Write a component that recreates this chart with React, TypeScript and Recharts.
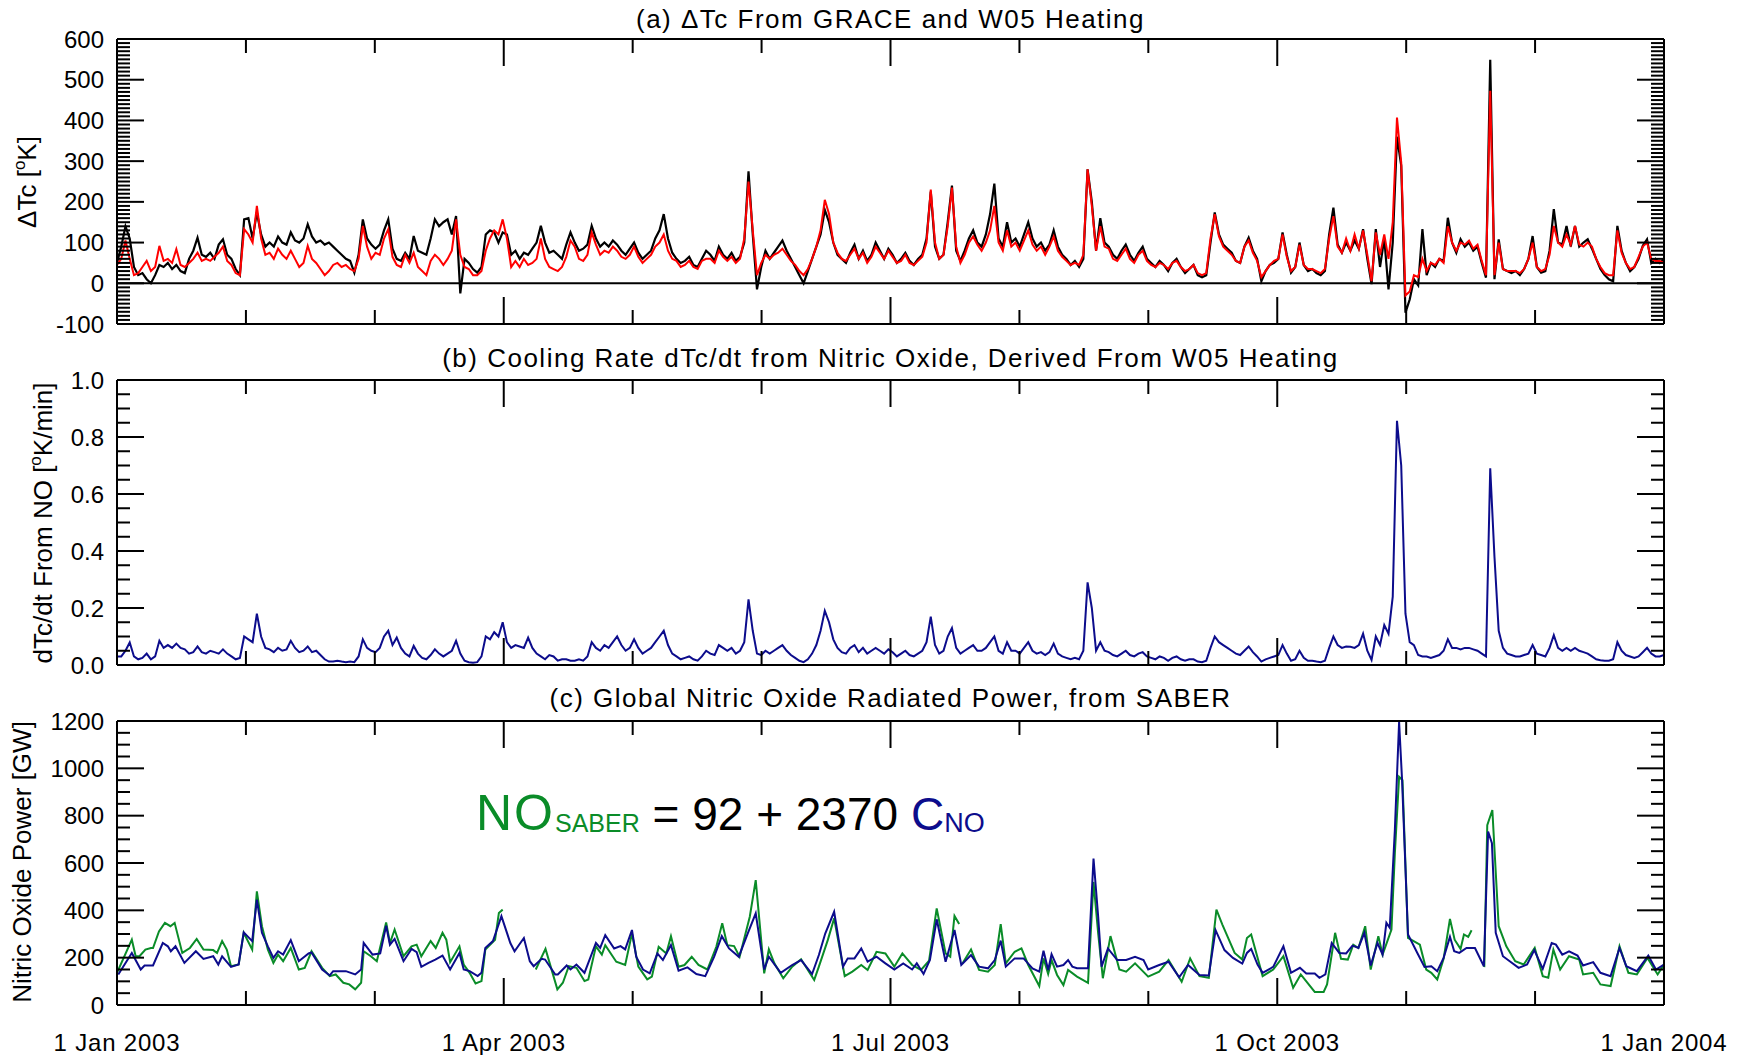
import { ComposedChart, Line, XAxis, YAxis, ReferenceLine } from 'recharts'

const FONT = '"Liberation Sans", Arial, Helvetica, sans-serif'
const INK = '#000000'
const RED = '#ff0000'
const NAVY = '#0c0c8c'
const GREEN = '#0a8c28'

// IDL style: twelve even month ticks, the quarters carry labels
const MONTH_TICKS = [0, 30.42, 60.83, 91.25, 121.67, 152.08, 182.5, 212.92, 243.33, 273.75, 304.17, 334.58, 365]
const MONTH_LABELS = ['1 Jan 2003', '', '', '1 Apr 2003', '', '', '1 Jul 2003', '', '', '1 Oct 2003', '', '', '1 Jan 2004']

// (a) daily Delta Tc [K], day 0 = 1 Jan 2003
const GRACE_DTC = [
  50, 90, 140, 110, 40, 20, 25, 10, 0, 20,
  45, 40, 50, 35, 45, 30, 25, 60, 80, 112,
  70, 65, 75, 60, 95, 108, 70, 60, 35, 20,
  157, 160, 110, 174, 120, 90, 100, 90, 115, 100,
  95, 125, 105, 100, 110, 145, 115, 100, 105, 95,
  100, 90, 80, 70, 60, 55, 26, 70, 157, 110,
  95, 85, 95, 130, 157, 85, 60, 55, 75, 60,
  116, 80, 75, 70, 110, 157, 140, 150, 157, 120,
  165, -25, 60, 50, 35, 26, 40, 120, 130, 125,
  100, 125, 120, 70, 80, 60, 75, 70, 85, 100,
  141, 100, 75, 80, 70, 60, 95, 125, 100, 80,
  85, 95, 141, 110, 90, 100, 90, 105, 95, 80,
  70, 85, 100, 75, 60, 70, 80, 110, 130, 170,
  110, 75, 60, 50, 55, 65, 45, 40, 60, 80,
  70, 55, 90, 70, 60, 75, 55, 65, 100, 275,
  120, -15, 40, 80, 60, 75, 90, 105, 80, 60,
  40, 20, 0, 30, 60, 90, 120, 180, 150, 100,
  70, 60, 50, 75, 95, 60, 80, 55, 70, 100,
  80, 60, 85, 70, 50, 60, 75, 55, 45, 60,
  70, 110, 225, 90, 60, 70, 150, 240, 80, 55,
  80, 110, 130, 100, 90, 120, 170, 245, 110, 90,
  150, 100, 110, 90, 120, 150, 110, 90, 100, 80,
  95, 130, 90, 70, 60, 45, 55, 40, 60, 280,
  200, 80, 160, 100, 90, 70, 60, 80, 95, 70,
  55, 75, 90, 60, 50, 40, 55, 45, 30, 50,
  60, 40, 25, 35, 45, 20, 15, 20, 100, 174,
  120, 95, 85, 75, 55, 50, 90, 112, 80, 60,
  5, 30, 45, 50, 60, 125, 70, 26, 40, 100,
  45, 30, 35, 25, 20, 30, 120, 186, 95, 75,
  100, 80, 105, 85, 133, 60, -2, 133, 40, 110,
  -15, 100, 360, 289, -72, -40, 10, -5, 133, 20,
  50, 40, 60, 55, 161, 100, 75, 108, 90, 100,
  80, 90, 50, 14, 549, 10, 108, 35, 30, 25,
  30, 20, 35, 60, 116, 40, 26, 30, 80, 182,
  100, 95, 141, 90, 141, 90, 100, 108, 85, 60,
  35, 20, 10, 5, 141, 80, 50, 30, 40, 60,
  92, 108, 50, 60, 50, 60,
]

const W05_DTC = [
  45, 60, 105, 60, 20, 25, 40, 55, 30, 40,
  92, 55, 60, 50, 84, 45, 40, 50, 60, 75,
  55, 60, 55, 65, 75, 90, 55, 45, 25, 20,
  133, 120, 100, 190, 110, 70, 75, 60, 85, 70,
  60, 80, 60, 40, 50, 92, 60, 50, 35, 20,
  30, 45, 50, 40, 45, 35, 30, 60, 141, 90,
  60, 75, 70, 110, 133, 65, 45, 40, 70, 50,
  75, 40, 30, 20, 55, 70, 60, 45, 60, 80,
  157, 70, 40, 35, 20, 20, 30, 80, 110, 130,
  120, 157, 110, 40, 55, 40, 60, 45, 50, 60,
  110, 60, 40, 35, 30, 40, 65, 105, 90, 60,
  55, 70, 125, 95, 70, 80, 75, 90, 80, 65,
  60, 70, 90, 65, 50, 60, 70, 90, 100, 120,
  80, 60, 55, 40, 45, 55, 40, 35, 55, 60,
  60, 50, 80, 65, 55, 65, 50, 60, 110, 250,
  130, 20, 50, 70, 60, 70, 75, 85, 70, 55,
  45, 30, 20, 35, 60, 90, 130, 205, 170, 100,
  75, 60, 55, 70, 85, 60, 75, 50, 65, 90,
  75, 60, 80, 65, 50, 55, 70, 50, 45, 55,
  65, 100, 230, 100, 60, 70, 140, 235, 90, 50,
  70, 100, 115, 95, 80, 100, 130, 190, 100, 80,
  130, 90, 100, 80, 105, 130, 95, 80, 90, 70,
  90, 115, 80, 65, 55, 45, 50, 45, 70, 280,
  190, 80, 140, 90, 85, 60, 55, 70, 85, 60,
  50, 70, 80, 55, 45, 40, 50, 45, 35, 50,
  55, 40, 30, 35, 45, 25, 20, 25, 110, 170,
  115, 90, 80, 70, 55, 50, 90, 105, 75, 55,
  15, 30, 45, 55, 60, 120, 65, 30, 40, 95,
  45, 35, 35, 30, 25, 35, 110, 165, 90, 75,
  110, 80, 120, 85, 130, 70, 5, 125, 70, 120,
  60, 150, 407, 297, -30, -20, 20, 15, 60, 30,
  50, 45, 60, 50, 140, 100, 80, 100, 95, 105,
  85, 95, 55, 20, 473, 20, 100, 35, 30, 30,
  30, 25, 35, 60, 100, 40, 30, 35, 70, 141,
  100, 90, 120, 95, 141, 95, 90, 100, 90, 60,
  40, 25, 20, 20, 130, 75, 50, 35, 40, 65,
  90, 100, 60, 55, 55, 50,
]

// (b) daily dTc/dt from NO [K/min]
const NO_COOLING = [
  0.03, 0.03, 0.05, 0.079, 0.03, 0.02, 0.025, 0.04, 0.02, 0.03,
  0.085, 0.06, 0.07, 0.06, 0.075, 0.06, 0.055, 0.04, 0.045, 0.065,
  0.045, 0.04, 0.05, 0.045, 0.04, 0.055, 0.04, 0.03, 0.02, 0.025,
  0.1, 0.09, 0.08, 0.18, 0.1, 0.06, 0.055, 0.045, 0.06, 0.05,
  0.055, 0.085, 0.06, 0.045, 0.05, 0.065, 0.045, 0.05, 0.035, 0.02,
  0.012, 0.012, 0.015, 0.012, 0.01, 0.012, 0.01, 0.03, 0.09, 0.06,
  0.05, 0.045, 0.06, 0.1, 0.12, 0.07, 0.096, 0.06, 0.04, 0.03,
  0.067, 0.04, 0.025, 0.02, 0.035, 0.055, 0.04, 0.03, 0.04, 0.05,
  0.085, 0.04, 0.015, 0.01, 0.008, 0.01, 0.03, 0.1, 0.09, 0.115,
  0.1, 0.15, 0.08, 0.06, 0.07, 0.065, 0.06, 0.096, 0.06, 0.04,
  0.03, 0.02, 0.035, 0.03, 0.015, 0.02, 0.02, 0.015, 0.015, 0.02,
  0.015, 0.03, 0.08, 0.06, 0.05, 0.07, 0.06, 0.08, 0.1, 0.07,
  0.05, 0.06, 0.09, 0.06, 0.04, 0.05, 0.06, 0.08, 0.1, 0.12,
  0.07, 0.04, 0.03, 0.02, 0.025, 0.03, 0.02, 0.015, 0.03, 0.05,
  0.04, 0.035, 0.07, 0.06, 0.05, 0.06, 0.04, 0.05, 0.08, 0.23,
  0.12, 0.04, 0.035, 0.05, 0.04, 0.05, 0.06, 0.07, 0.05, 0.035,
  0.025, 0.015, 0.01, 0.02, 0.04, 0.07, 0.12, 0.19, 0.15, 0.09,
  0.06, 0.045, 0.04, 0.06, 0.07, 0.045, 0.06, 0.04, 0.05, 0.06,
  0.05, 0.04, 0.055, 0.045, 0.03, 0.04, 0.05, 0.035, 0.03, 0.04,
  0.05, 0.08, 0.17, 0.07, 0.04, 0.05, 0.1, 0.13, 0.06, 0.04,
  0.05, 0.06, 0.07, 0.05, 0.05, 0.06, 0.08, 0.1, 0.05, 0.04,
  0.08, 0.05, 0.05, 0.04, 0.06, 0.08, 0.05, 0.04, 0.045, 0.035,
  0.045, 0.075, 0.04, 0.03, 0.025, 0.02, 0.025, 0.02, 0.05, 0.29,
  0.2, 0.05, 0.08, 0.05, 0.045, 0.035, 0.03, 0.04, 0.05, 0.035,
  0.03, 0.04, 0.045, 0.03, 0.025, 0.02, 0.03, 0.025, 0.015, 0.025,
  0.03, 0.02, 0.015, 0.02, 0.02, 0.012, 0.01, 0.015, 0.06, 0.1,
  0.08, 0.07, 0.06, 0.05, 0.04, 0.035, 0.05, 0.065, 0.045, 0.03,
  0.012, 0.02, 0.025, 0.03, 0.035, 0.07, 0.04, 0.015, 0.02, 0.05,
  0.025, 0.015, 0.015, 0.012, 0.01, 0.015, 0.06, 0.1, 0.07, 0.06,
  0.065, 0.064, 0.06, 0.07, 0.11, 0.05, 0.018, 0.1, 0.07, 0.14,
  0.11, 0.24, 0.857, 0.7, 0.18, 0.08, 0.07, 0.035, 0.03, 0.03,
  0.025, 0.03, 0.035, 0.05, 0.09, 0.06, 0.06, 0.055, 0.06, 0.06,
  0.055, 0.05, 0.04, 0.03, 0.69, 0.38, 0.12, 0.06, 0.04, 0.035,
  0.03, 0.03, 0.035, 0.04, 0.07, 0.04, 0.035, 0.03, 0.06, 0.105,
  0.06, 0.05, 0.06, 0.05, 0.06, 0.05, 0.045, 0.04, 0.03, 0.02,
  0.017, 0.015, 0.015, 0.02, 0.08, 0.05, 0.035, 0.03, 0.025, 0.03,
  0.045, 0.06, 0.04, 0.03, 0.03, 0.035,
]

// (c) [day, GW]; null marks the gaps in the SABER record
const SABER_GW: [number, number | null][] = [
  [0, 136], [3.5, 276], [4.4, 206], [5.3, 206], [6.7, 234], [8, 241], [8.5, 241], [9.9, 311], [11.3, 347], [12.6, 333],
  [13.6, 347], [15.4, 220], [17.2, 241], [18.8, 279], [20.4, 234], [22.7, 232], [23.6, 220], [24.8, 270], [25.9, 234], [26.9, 164],
  [28.7, 171], [29.9, 305], [31.9, 234], [33, 480], [34.2, 333], [35.6, 234], [36.9, 178], [38, 213], [39.2, 185], [41, 241],
  [42.9, 150], [44.3, 157], [45.9, 227], [48.4, 157], [50.2, 122], [51.6, 129], [53.4, 94], [54.8, 87], [56.2, 66], [57.6, 94],
  [58.2, 227], [59.9, 206], [61.3, 185], [63.5, 349], [64.4, 262], [65.5, 319], [67.6, 206], [69.5, 248], [70.7, 255], [71.8, 206],
  [74, 270], [75.2, 241], [76.8, 305], [77.7, 276], [78.6, 181], [80.8, 248], [81.8, 171], [83.2, 136], [84.6, 91], [86, 101],
  [86.9, 234], [89.2, 276], [90.1, 389], [91, 403], [91.5, null],
  [98.8, 150], [101.1, 237], [103.9, 66], [105.2, 94], [106.6, 164], [108.4, 157], [110.3, 101], [111.2, 108], [113, 248], [114.4, 213],
  [115.2, 253], [117.8, 183], [119.9, 169], [121.5, 302], [123, 162], [125.1, 108], [126.2, 120], [127.8, 246], [129.6, 218], [130.7, 291],
  [132.5, 162], [133.9, 169], [135.6, 204], [137.2, 169], [139.3, 150], [141.4, 246], [142.8, 345], [144, 253], [145.6, 249], [146.9, 204],
  [149.3, 373], [150.7, 528], [152.7, 134], [153.8, 235], [155.1, 176], [157.2, 113], [159.3, 162], [161.4, 193], [164.5, 106], [165.6, 162],
  [167.7, 274], [169.2, 366], [171.7, 122], [173.5, 141], [175.6, 169], [177.1, 148], [179.2, 225], [181.3, 218], [183.4, 162], [185.3, 218],
  [187.6, 169], [189.7, 148], [191.6, 187], [193.4, 408], [195.5, 218], [196.6, 204], [197.6, 376], [198.7, 342], [199.1, null],
  [199.5, 176], [201.5, 235], [203.4, 148], [205.5, 141], [207.1, 169], [208.5, 342], [209.7, 176], [211.8, 225], [213.4, 239], [215, 169],
  [217.6, 80], [218.6, 197], [219.7, 131], [220.5, 190], [221.8, 127], [223.3, 84], [224.4, 148], [226.5, 120], [229.1, 94], [230.4, 520],
  [231.5, 302], [232.6, 113], [234.4, 291], [236.5, 150], [238.1, 141], [240.2, 176], [243.3, 120], [245.9, 141], [248.1, 190], [251.2, 98],
  [253.2, 197], [255.4, 122], [257.6, 115], [259.4, 403], [260.8, 340], [263.7, 220], [265.5, 192], [266.6, 283], [267.6, 298], [270.3, 122],
  [272.8, 150], [275.2, 206], [277.5, 73], [279.3, 129], [282.6, 55], [284.7, 55], [285.5, 87], [287.4, 305], [288.8, 195], [290.4, 192],
  [291.7, 255], [292.9, 241], [294.5, 333], [295.8, 150], [297.6, 291], [298.6, 213], [300.7, 319], [301.5, 641], [302.5, 964], [303.3, 950],
  [304.6, 284], [307.4, 255], [308.9, 150], [310.1, 136], [311.5, 108], [313, 195], [314.5, 364], [315.6, 276], [317, 237], [317.8, 298],
  [318.8, 288], [319.6, 316], [321, null],
  [322.6, 160], [323.3, 760], [324.5, 824], [326, 333], [327.8, 248], [329.9, 185], [331.9, 171], [334.5, 241], [336.4, 122], [337.7, 115],
  [338.9, 234], [340.5, 150], [342.6, 206], [345, 192], [345.9, 129], [348.3, 136], [350, 87], [352.4, 80], [354.5, 248], [356.6, 136],
  [358.6, 129], [361.1, 199], [363.5, 129], [365, 171],
]

const CNO_GW: [number, number][] = [
  [0.3, 129], [3.5, 220], [5.6, 150], [6.5, 167], [8.5, 167], [10.8, 262], [12, 248], [12.7, 227], [13.8, 248], [15.9, 178],
  [18.6, 227], [20.4, 195], [22.7, 206], [23.9, 171], [24.8, 206], [26.9, 161], [28.7, 171], [29.9, 307], [31.9, 270], [33, 445],
  [34.2, 305], [35.6, 248], [36.9, 199], [38, 227], [39.2, 213], [41, 274], [42.9, 185], [45.2, 218], [45.9, 222], [48.4, 150],
  [50.2, 125], [51, 143], [54, 143], [56.2, 129], [57.6, 150], [58.2, 262], [60.3, 213], [62.1, 218], [63.5, 335], [64.4, 255],
  [65.5, 279], [67.6, 185], [69.5, 237], [70.7, 223], [71.8, 161], [73.5, 178], [75.1, 192], [76.8, 209], [78.6, 150], [80.8, 220],
  [81.8, 150], [83.2, 143], [85.1, 122], [86, 136], [86.9, 241], [88.7, 270], [90.7, 375], [92.8, 262], [93.8, 227], [96, 283],
  [97.4, 185], [98.3, 164], [100.2, 195], [101, 192], [103.4, 129], [104, 129], [106.1, 167], [107, 150], [108.4, 171], [110.3, 136],
  [113, 262], [114, 241], [115.2, 295], [117.3, 239], [118.8, 249], [119.9, 235], [121.5, 317], [122.5, 204], [124.1, 150], [125.7, 134],
  [127.5, 218], [128.8, 190], [130.7, 253], [132.5, 145], [134.6, 159], [136.7, 131], [138.8, 122], [140.9, 204], [142.7, 291], [144.4, 239],
  [146.7, 204], [148.8, 302], [150.7, 387], [152.7, 150], [153.8, 204], [156.6, 136], [159.3, 169], [161.4, 190], [164, 131], [165.6, 211],
  [167.1, 302], [169.2, 394], [171.3, 162], [172.4, 197], [174, 197], [175.6, 239], [177.1, 183], [179.2, 204], [181.3, 176], [183.4, 150],
  [185.5, 176], [187.6, 150], [188.7, 176], [190.3, 131], [191.8, 190], [193.4, 362], [195.5, 183], [197.6, 317], [199.2, 169], [201.5, 211],
  [203.4, 162], [205.5, 155], [207.1, 190], [208.5, 272], [209.7, 162], [211.8, 197], [213.9, 197], [216, 155], [217.6, 141], [218.6, 229],
  [219.7, 148], [220.5, 215], [221.8, 162], [223.3, 169], [224.4, 190], [225.4, 162], [226.5, 155], [229.1, 155], [230.4, 619], [231.5, 373],
  [232.3, 162], [233.8, 239], [236, 190], [238.1, 190], [240.2, 204], [242.2, 190], [243.3, 150], [245.9, 169], [248.1, 183], [250.6, 117],
  [252.7, 169], [255.4, 127], [257.6, 125], [259.2, 316], [261.3, 232], [263.3, 199], [265.5, 175], [266.6, 220], [267.6, 237], [269.1, 171],
  [270.3, 136], [272.8, 161], [275.2, 248], [277, 136], [279.1, 157], [280.6, 133], [282.6, 133], [283.7, 115], [285.1, 129], [286.6, 262],
  [288.4, 220], [290, 218], [291.5, 251], [292.9, 241], [294.3, 305], [295.8, 167], [297.4, 262], [298.6, 213], [299.5, 347], [300.3, 326],
  [301.5, 740], [302.5, 1196], [303.2, 950], [304.6, 298], [306.8, 220], [308.5, 161], [310.1, 164], [311.5, 143], [313, 199], [314.5, 288],
  [315.5, 227], [316.7, 220], [318.4, 241], [320.4, 241], [322.5, 164], [323.5, 733], [324.4, 684], [325.3, 305], [327, 206], [328.6, 185],
  [330.7, 157], [332.7, 171], [334.4, 232], [336.4, 153], [338.5, 262], [339.5, 255], [341, 213], [342.6, 227], [344.6, 209], [345.9, 167],
  [348.3, 181], [350, 136], [352.4, 122], [354.5, 241], [356.1, 164], [358.6, 143], [361.3, 209], [363.1, 150], [365, 171],
]

const DT_TICKS = Array.from({ length: 71 }, (_, i) => -100 + i * 10)
const COOL_TICKS = Array.from({ length: 21 }, (_, i) => (i * 5) / 100)
const GW_TICKS = Array.from({ length: 25 }, (_, i) => i * 50)

const rowsA = GRACE_DTC.map((g, i) => ({ day: i, grace: g, w05: W05_DTC[i] }))
const rowsB = NO_COOLING.map((c, i) => ({ day: i, cool: c }))
const saberRows = SABER_GW.map(([day, gw]) => ({ day, gw }))
const cnoRows = CNO_GW.map(([day, gw]) => ({ day, gw }))

const txt = { fontFamily: FONT, fontSize: 24, fill: INK }

function YTick({ x, y, payload, side, isMajor, fmt }: any) {
  const big = isMajor(payload.value)
  const d = side === 'left' ? 1 : -1
  return (
    <g>
      <line x1={x} y1={y} x2={x + d * (big ? 27 : 13)} y2={y} stroke={INK} strokeWidth={2} />
      {side === 'left' && big && (
        <text x={x - 13} y={y + 8.5} textAnchor="end" {...txt}>{fmt(payload.value)}</text>
      )}
    </g>
  )
}

function XTick({ x, y, index, side, labelled }: any) {
  const big = index % 3 === 0
  const d = side === 'bottom' ? -1 : 1
  return (
    <g>
      <line x1={x} y1={y} x2={x} y2={y + d * (big ? 27 : 14)} stroke={INK} strokeWidth={2} />
      {labelled && MONTH_LABELS[index] && (
        <text x={x} y={y + 46} textAnchor="middle" letterSpacing={0.8} {...txt}>{MONTH_LABELS[index]}</text>
      )}
    </g>
  )
}

function Panel({ top, height, bottomH, data, domain, ticks, isMajor, fmt, labelled, children }: any) {
  const frame = { stroke: INK, strokeWidth: 2 }
  return (
    <div style={{ position: 'absolute', left: 0, top }}>
      <ComposedChart width={1746} height={height} data={data} margin={{ top: 0, right: 0, bottom: 0, left: 0 }}>
        <XAxis dataKey="day" type="number" domain={[0, 365]} ticks={MONTH_TICKS} interval={0} height={bottomH}
          tickSize={0} tickMargin={0} tickLine={false} axisLine={frame} allowDataOverflow
          tick={(p: any) => <XTick {...p} side="bottom" labelled={labelled} />} />
        <XAxis xAxisId="top" orientation="top" dataKey="day" type="number" domain={[0, 365]} ticks={MONTH_TICKS} interval={0} height={39}
          tickSize={0} tickMargin={0} tickLine={false} axisLine={frame} allowDataOverflow
          tick={(p: any) => <XTick {...p} side="top" />} />
        <YAxis type="number" domain={domain} ticks={ticks} interval={0} width={117}
          tickSize={0} tickMargin={0} tickLine={false} axisLine={frame} allowDataOverflow
          tick={(p: any) => <YTick {...p} side="left" isMajor={isMajor} fmt={fmt} />} />
        <YAxis yAxisId="r" orientation="right" type="number" domain={domain} ticks={ticks} interval={0} width={82}
          tickSize={0} tickMargin={0} tickLine={false} axisLine={frame} allowDataOverflow
          tick={(p: any) => <YTick {...p} side="right" isMajor={isMajor} fmt={fmt} />} />
        {children}
      </ComposedChart>
    </div>
  )
}

export default function App() {
  return (
    <div style={{ position: 'absolute', left: 0, top: 0, width: 1746, height: 1055, background: '#fff' }}>
      <Panel top={0} height={345} bottomH={21} data={rowsA} domain={[-100, 600]} ticks={DT_TICKS}
        isMajor={(v: number) => v % 100 === 0} fmt={(v: number) => String(v)}>
        <ReferenceLine y={0} stroke={INK} strokeWidth={2} />
        <Line dataKey="grace" type="linear" stroke={INK} strokeWidth={2.2} dot={false} isAnimationActive={false} />
        <Line dataKey="w05" type="linear" stroke={RED} strokeWidth={2} dot={false} isAnimationActive={false} />
      </Panel>
      <Panel top={341} height={345} bottomH={21} data={rowsB} domain={[0, 1]} ticks={COOL_TICKS}
        isMajor={(v: number) => Math.abs(v * 5 - Math.round(v * 5)) < 1e-6} fmt={(v: number) => v.toFixed(1)}>
        <Line dataKey="cool" type="linear" stroke={NAVY} strokeWidth={2} dot={false} isAnimationActive={false} />
      </Panel>
      <Panel top={682} height={373} bottomH={50} domain={[0, 1200]} ticks={GW_TICKS} labelled
        isMajor={(v: number) => v % 200 === 0} fmt={(v: number) => String(v)}>
        <Line data={saberRows} dataKey="gw" type="linear" stroke={GREEN} strokeWidth={2} dot={false} isAnimationActive={false} />
        <Line data={cnoRows} dataKey="gw" type="linear" stroke={NAVY} strokeWidth={2} dot={false} isAnimationActive={false} />
      </Panel>

      <svg width={1746} height={1055} style={{ position: 'absolute', left: 0, top: 0, pointerEvents: 'none' }}>
        <g fontFamily={FONT} fill={INK} textAnchor="middle" fontSize={26}>
          <g letterSpacing={1.5}>
            <text x={890.5} y={28}>(a) ΔTc From GRACE and W05 Heating</text>
            <text x={890.5} y={367}>(b) Cooling Rate dTc/dt from Nitric Oxide, Derived From W05 Heating</text>
            <text x={890.5} y={707}>(c) Global Nitric Oxide Radiated Power, from SABER</text>
          </g>
          <text transform="translate(36,182) rotate(-90)">ΔTc [<tspan fontSize={17} dy={-11}>o</tspan><tspan dy={11}>K]</tspan></text>
          <text transform="translate(52,523) rotate(-90)">dTc/dt From NO [<tspan fontSize={17} dy={-11}>o</tspan><tspan dy={11}>K/min]</tspan></text>
          <text transform="translate(31,862) rotate(-90)">Nitric Oxide Power [GW]</text>
        </g>
        <text x={476} y={830} fontFamily={FONT} fontSize={46} style={{ whiteSpace: 'pre' }}>
          <tspan fill={GREEN} fontSize={50} letterSpacing={2}>NO</tspan>
          <tspan fill={GREEN} fontSize={25} dy={2}>SABER</tspan>
          <tspan fill={INK} dy={-2}> = 92 + 2370 </tspan>
          <tspan fill={NAVY}>C</tspan>
          <tspan fill={NAVY} fontSize={27} dy={2}>NO</tspan>
        </text>
      </svg>
    </div>
  )
}
